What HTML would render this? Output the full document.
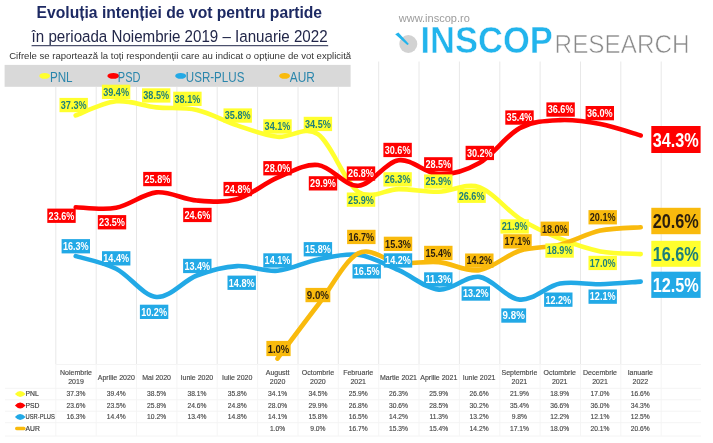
<!DOCTYPE html>
<html><head><meta charset="utf-8"><title>Evoluția intenției de vot pentru partide</title>
<style>html,body{margin:0;padding:0;background:#fff}body{width:713px;height:443px;overflow:hidden}svg{display:block}text{font-family:"Liberation Sans",sans-serif}</style></head><body>
<svg width="713" height="443" viewBox="0 0 713 443">
<defs><filter id="bl" x="-2%" y="-2%" width="104%" height="104%"><feGaussianBlur stdDeviation="0.72"/></filter></defs>
<rect width="713" height="443" fill="#fff"/>
<g filter="url(#bl)">
<g stroke="#E8E8E8" stroke-width="1">
<line x1="55.8" y1="87.0" x2="55.8" y2="364"/>
<line x1="96.2" y1="87.0" x2="96.2" y2="364"/>
<line x1="136.5" y1="87.0" x2="136.5" y2="364"/>
<line x1="176.9" y1="87.0" x2="176.9" y2="364"/>
<line x1="217.2" y1="87.0" x2="217.2" y2="364"/>
<line x1="257.6" y1="87.0" x2="257.6" y2="364"/>
<line x1="298.0" y1="87.0" x2="298.0" y2="364"/>
<line x1="338.3" y1="87.0" x2="338.3" y2="364"/>
<line x1="378.7" y1="61.5" x2="378.7" y2="364"/>
<line x1="419.0" y1="61.5" x2="419.0" y2="364"/>
<line x1="459.4" y1="61.5" x2="459.4" y2="364"/>
<line x1="499.8" y1="61.5" x2="499.8" y2="364"/>
<line x1="540.1" y1="61.5" x2="540.1" y2="364"/>
<line x1="580.5" y1="61.5" x2="580.5" y2="364"/>
<line x1="620.8" y1="61.5" x2="620.8" y2="364"/>
<line x1="661.2" y1="61.5" x2="661.2" y2="364"/>
</g>
<g stroke="#F5F5F5" stroke-width="1">
<line x1="55.8" y1="364" x2="55.8" y2="436"/>
<line x1="96.2" y1="364" x2="96.2" y2="436"/>
<line x1="136.5" y1="364" x2="136.5" y2="436"/>
<line x1="176.9" y1="364" x2="176.9" y2="436"/>
<line x1="217.2" y1="364" x2="217.2" y2="436"/>
<line x1="257.6" y1="364" x2="257.6" y2="436"/>
<line x1="298.0" y1="364" x2="298.0" y2="436"/>
<line x1="338.3" y1="364" x2="338.3" y2="436"/>
<line x1="378.7" y1="364" x2="378.7" y2="436"/>
<line x1="419.0" y1="364" x2="419.0" y2="436"/>
<line x1="459.4" y1="364" x2="459.4" y2="436"/>
<line x1="499.8" y1="364" x2="499.8" y2="436"/>
<line x1="540.1" y1="364" x2="540.1" y2="436"/>
<line x1="580.5" y1="364" x2="580.5" y2="436"/>
<line x1="620.8" y1="364" x2="620.8" y2="436"/>
<line x1="661.2" y1="364" x2="661.2" y2="436"/>
</g>
<text x="36.6" y="17.7" font-size="16" font-weight="bold" fill="#1F2A63" textLength="285.5" lengthAdjust="spacingAndGlyphs">Evoluția intenției de vot pentru partide</text>
<text x="31.6" y="42" font-size="17.4" fill="#23284a" textLength="296" lengthAdjust="spacingAndGlyphs">în perioada Noiembrie 2019 – Ianuarie 2022</text>
<rect x="31.6" y="45.2" width="296.6" height="1" fill="#23284a"/>
<text x="9.2" y="58.5" font-size="8.6" fill="#333" textLength="342" lengthAdjust="spacingAndGlyphs">Cifrele se raportează la toți respondenții care au indicat o opțiune de vot explicită</text>
<rect x="4.6" y="64.9" width="346" height="21.9" fill="#D9D9D9"/>
<ellipse cx="44.7" cy="75.9" rx="5.4" ry="2.9" fill="#FFFF2E"/>
<text x="49.9" y="82" font-size="14" fill="#2A86AC" textLength="22.7" lengthAdjust="spacingAndGlyphs">PNL</text>
<ellipse cx="113.3" cy="75.9" rx="5.9" ry="2.9" fill="#FF0000"/>
<text x="117.8" y="82" font-size="14" fill="#2A86AC" textLength="22.6" lengthAdjust="spacingAndGlyphs">PSD</text>
<ellipse cx="180.7" cy="75.9" rx="5.5" ry="2.9" fill="#22A9E6"/>
<text x="185.8" y="82" font-size="14" fill="#2A86AC" textLength="58.6" lengthAdjust="spacingAndGlyphs">USR-PLUS</text>
<ellipse cx="284.6" cy="75.9" rx="5.4" ry="2.9" fill="#F9BA0A"/>
<text x="289.8" y="82" font-size="14" fill="#2A86AC" textLength="25.1" lengthAdjust="spacingAndGlyphs">AUR</text>
<text x="398.8" y="22" font-size="11" fill="#9c9c9c" textLength="71" lengthAdjust="spacingAndGlyphs">www.inscop.ro</text>
<circle cx="408.3" cy="44" r="9" fill="#D2D2D2"/>
<path d="M395.2 34.2 L398.4 32.4 L408.9 43.9 L407.3 45 Z" fill="#22B4EC"/>
<text x="420.4" y="53.3" font-size="36.5" font-weight="bold" fill="#22B4EC" stroke="#fff" stroke-width="0.5" textLength="132.4" lengthAdjust="spacingAndGlyphs">INSCOP</text>
<text x="554.6" y="53" font-size="24.9" fill="#8a8a8a" textLength="135" lengthAdjust="spacingAndGlyphs" stroke="#fff" stroke-width="0.6">RESEARCH</text>
<path d="M75.7 115.4 C82.4 113.0 102.6 102.7 116.1 101.3 C129.5 100.0 143.0 105.9 156.4 107.4 C169.9 108.8 183.3 107.0 196.8 110.0 C210.2 113.0 223.7 121.0 237.1 125.4 C250.6 129.9 264.0 135.4 277.5 136.8 C291.0 138.3 304.4 125.0 317.9 134.2 C331.3 143.3 344.8 182.6 358.2 191.8 C371.7 200.9 385.1 189.1 398.6 189.1 C412.0 189.1 425.5 192.1 438.9 191.8 C452.4 191.4 465.8 182.6 479.3 187.1 C492.8 191.5 506.2 210.0 519.7 218.6 C533.1 227.2 546.6 233.2 560.0 238.7 C573.5 244.1 586.9 248.8 600.4 251.4 C613.8 254.0 634.0 253.6 640.7 254.1" fill="none" stroke="#FFFF2E" stroke-width="4.6" stroke-linecap="round" stroke-linejoin="round"/>
<path d="M75.7 207.2 C82.4 207.3 102.6 210.3 116.1 207.8 C129.5 205.4 143.0 193.7 156.4 192.4 C169.9 191.2 183.3 199.4 196.8 200.5 C210.2 201.6 223.7 202.9 237.1 199.1 C250.6 195.3 264.0 183.4 277.5 177.7 C291.0 172.0 304.4 163.6 317.9 165.0 C331.3 166.3 344.8 186.5 358.2 185.7 C371.7 185.0 385.1 162.2 398.6 160.3 C412.0 158.4 425.5 173.9 438.9 174.3 C452.4 174.8 465.8 170.7 479.3 163.0 C492.8 155.3 506.2 135.3 519.7 128.1 C533.1 121.0 546.6 120.7 560.0 120.1 C573.5 119.4 586.9 121.5 600.4 124.1 C613.8 126.7 634.0 133.6 640.7 135.5" fill="none" stroke="#FF0000" stroke-width="4.6" stroke-linecap="round" stroke-linejoin="round"/>
<path d="M75.7 256.1 C82.4 258.2 102.6 262.0 116.1 268.8 C129.5 275.6 143.0 295.8 156.4 297.0 C169.9 298.1 183.3 280.7 196.8 275.5 C210.2 270.4 223.7 266.9 237.1 266.1 C250.6 265.4 264.0 271.9 277.5 270.8 C291.0 269.7 304.4 262.1 317.9 259.4 C331.3 256.8 344.8 253.0 358.2 254.8 C371.7 256.5 385.1 264.4 398.6 270.2 C412.0 276.0 425.5 288.5 438.9 289.6 C452.4 290.7 465.8 275.2 479.3 276.9 C492.8 278.5 506.2 298.5 519.7 299.6 C533.1 300.8 546.6 286.1 560.0 283.6 C573.5 281.0 586.9 284.6 600.4 284.2 C613.8 283.9 634.0 282.0 640.7 281.6" fill="none" stroke="#22A9E6" stroke-width="4.6" stroke-linecap="round" stroke-linejoin="round"/>
<path d="M277.5 358.6 C284.2 349.7 304.4 322.5 317.9 305.0 C331.3 287.5 344.8 260.4 358.2 253.4 C371.7 246.4 385.1 261.3 398.6 262.8 C412.0 264.2 425.5 260.9 438.9 262.1 C452.4 263.3 465.8 272.1 479.3 270.2 C492.8 268.3 506.2 255.0 519.7 250.7 C533.1 246.5 546.6 248.0 560.0 244.7 C573.5 241.3 586.9 233.5 600.4 230.6 C613.8 227.7 634.0 227.8 640.7 227.3" fill="none" stroke="#F9BA0A" stroke-width="4.6" stroke-linecap="round" stroke-linejoin="round"/>
<rect x="59.5" y="97.9" width="28.4" height="14.3" fill="#FFFF2E"/>
<text x="60.8" y="108.9" font-size="10.6" font-weight="bold" fill="#1F7F7A" textLength="25.8" lengthAdjust="spacingAndGlyphs">37.3%</text>
<rect x="101.9" y="84.7" width="28.4" height="14.3" fill="#FFFF2E"/>
<text x="103.2" y="95.7" font-size="10.6" font-weight="bold" fill="#1F7F7A" textLength="25.8" lengthAdjust="spacingAndGlyphs">39.4%</text>
<rect x="142.0" y="88.3" width="28.4" height="14.3" fill="#FFFF2E"/>
<text x="143.3" y="99.3" font-size="10.6" font-weight="bold" fill="#1F7F7A" textLength="25.8" lengthAdjust="spacingAndGlyphs">38.5%</text>
<rect x="173.2" y="91.7" width="28.4" height="14.3" fill="#FFFF2E"/>
<text x="174.5" y="102.7" font-size="10.6" font-weight="bold" fill="#1F7F7A" textLength="25.8" lengthAdjust="spacingAndGlyphs">38.1%</text>
<rect x="223.5" y="108.4" width="28.4" height="14.3" fill="#FFFF2E"/>
<text x="224.8" y="119.4" font-size="10.6" font-weight="bold" fill="#1F7F7A" textLength="25.8" lengthAdjust="spacingAndGlyphs">35.8%</text>
<rect x="263.3" y="119.3" width="28.4" height="14.3" fill="#FFFF2E"/>
<text x="264.6" y="130.3" font-size="10.6" font-weight="bold" fill="#1F7F7A" textLength="25.8" lengthAdjust="spacingAndGlyphs">34.1%</text>
<rect x="303.7" y="116.8" width="28.4" height="14.3" fill="#FFFF2E"/>
<text x="305.0" y="127.7" font-size="10.6" font-weight="bold" fill="#1F7F7A" textLength="25.8" lengthAdjust="spacingAndGlyphs">34.5%</text>
<rect x="346.8" y="192.5" width="28.4" height="14.3" fill="#FFFF2E"/>
<text x="348.1" y="203.5" font-size="10.6" font-weight="bold" fill="#1F7F7A" textLength="25.8" lengthAdjust="spacingAndGlyphs">25.9%</text>
<rect x="383.4" y="172.2" width="28.4" height="14.3" fill="#FFFF2E"/>
<text x="384.7" y="183.2" font-size="10.6" font-weight="bold" fill="#1F7F7A" textLength="25.8" lengthAdjust="spacingAndGlyphs">26.3%</text>
<rect x="424.1" y="174.4" width="28.4" height="14.3" fill="#FFFF2E"/>
<text x="425.4" y="185.4" font-size="10.6" font-weight="bold" fill="#1F7F7A" textLength="25.8" lengthAdjust="spacingAndGlyphs">25.9%</text>
<rect x="457.4" y="188.6" width="28.4" height="14.3" fill="#FFFF2E"/>
<text x="458.7" y="199.6" font-size="10.6" font-weight="bold" fill="#1F7F7A" textLength="25.8" lengthAdjust="spacingAndGlyphs">26.6%</text>
<rect x="500.4" y="219.3" width="28.4" height="14.3" fill="#FFFF2E"/>
<text x="501.8" y="230.3" font-size="10.6" font-weight="bold" fill="#1F7F7A" textLength="25.8" lengthAdjust="spacingAndGlyphs">21.9%</text>
<rect x="545.4" y="243.4" width="28.4" height="14.3" fill="#FFFF2E"/>
<text x="546.7" y="254.4" font-size="10.6" font-weight="bold" fill="#1F7F7A" textLength="25.8" lengthAdjust="spacingAndGlyphs">18.9%</text>
<rect x="588.5" y="255.8" width="28.4" height="14.3" fill="#FFFF2E"/>
<text x="589.8" y="266.7" font-size="10.6" font-weight="bold" fill="#1F7F7A" textLength="25.8" lengthAdjust="spacingAndGlyphs">17.0%</text>
<rect x="47.3" y="208.6" width="28.4" height="14.3" fill="#FF0000"/>
<text x="48.6" y="219.6" font-size="10.6" font-weight="bold" fill="#fff" textLength="25.8" lengthAdjust="spacingAndGlyphs">23.6%</text>
<rect x="97.8" y="215.1" width="28.4" height="14.3" fill="#FF0000"/>
<text x="99.1" y="226.0" font-size="10.6" font-weight="bold" fill="#fff" textLength="25.8" lengthAdjust="spacingAndGlyphs">23.5%</text>
<rect x="143.2" y="171.9" width="28.4" height="14.3" fill="#FF0000"/>
<text x="144.5" y="182.9" font-size="10.6" font-weight="bold" fill="#fff" textLength="25.8" lengthAdjust="spacingAndGlyphs">25.8%</text>
<rect x="183.2" y="207.8" width="28.4" height="14.3" fill="#FF0000"/>
<text x="184.5" y="218.8" font-size="10.6" font-weight="bold" fill="#fff" textLength="25.8" lengthAdjust="spacingAndGlyphs">24.6%</text>
<rect x="223.5" y="181.9" width="28.4" height="14.3" fill="#FF0000"/>
<text x="224.8" y="192.9" font-size="10.6" font-weight="bold" fill="#fff" textLength="25.8" lengthAdjust="spacingAndGlyphs">24.8%</text>
<rect x="263.3" y="161.1" width="28.4" height="14.3" fill="#FF0000"/>
<text x="264.6" y="172.0" font-size="10.6" font-weight="bold" fill="#fff" textLength="25.8" lengthAdjust="spacingAndGlyphs">28.0%</text>
<rect x="308.8" y="176.2" width="28.4" height="14.3" fill="#FF0000"/>
<text x="310.1" y="187.2" font-size="10.6" font-weight="bold" fill="#fff" textLength="25.8" lengthAdjust="spacingAndGlyphs">29.9%</text>
<rect x="346.8" y="166.4" width="28.4" height="14.3" fill="#FF0000"/>
<text x="348.1" y="177.4" font-size="10.6" font-weight="bold" fill="#fff" textLength="25.8" lengthAdjust="spacingAndGlyphs">26.8%</text>
<rect x="383.4" y="142.8" width="28.4" height="14.3" fill="#FF0000"/>
<text x="384.7" y="153.8" font-size="10.6" font-weight="bold" fill="#fff" textLength="25.8" lengthAdjust="spacingAndGlyphs">30.6%</text>
<rect x="424.1" y="157.2" width="28.4" height="14.3" fill="#FF0000"/>
<text x="425.4" y="168.2" font-size="10.6" font-weight="bold" fill="#fff" textLength="25.8" lengthAdjust="spacingAndGlyphs">28.5%</text>
<rect x="465.6" y="145.8" width="28.4" height="14.3" fill="#FF0000"/>
<text x="466.9" y="156.8" font-size="10.6" font-weight="bold" fill="#fff" textLength="25.8" lengthAdjust="spacingAndGlyphs">30.2%</text>
<rect x="505.3" y="110.4" width="28.4" height="14.3" fill="#FF0000"/>
<text x="506.6" y="121.4" font-size="10.6" font-weight="bold" fill="#fff" textLength="25.8" lengthAdjust="spacingAndGlyphs">35.4%</text>
<rect x="546.4" y="102.4" width="28.4" height="14.3" fill="#FF0000"/>
<text x="547.7" y="113.4" font-size="10.6" font-weight="bold" fill="#fff" textLength="25.8" lengthAdjust="spacingAndGlyphs">36.6%</text>
<rect x="585.6" y="106.0" width="28.4" height="14.3" fill="#FF0000"/>
<text x="586.9" y="117.0" font-size="10.6" font-weight="bold" fill="#fff" textLength="25.8" lengthAdjust="spacingAndGlyphs">36.0%</text>
<rect x="61.6" y="239.1" width="28.4" height="14.3" fill="#22A9E6"/>
<text x="62.9" y="250.1" font-size="10.6" font-weight="bold" fill="#fff" textLength="25.8" lengthAdjust="spacingAndGlyphs">16.3%</text>
<rect x="102.0" y="251.2" width="28.4" height="14.3" fill="#22A9E6"/>
<text x="103.3" y="262.1" font-size="10.6" font-weight="bold" fill="#fff" textLength="25.8" lengthAdjust="spacingAndGlyphs">14.4%</text>
<rect x="139.9" y="304.7" width="28.4" height="14.3" fill="#22A9E6"/>
<text x="141.2" y="315.6" font-size="10.6" font-weight="bold" fill="#fff" textLength="25.8" lengthAdjust="spacingAndGlyphs">10.2%</text>
<rect x="183.1" y="258.8" width="28.4" height="14.3" fill="#22A9E6"/>
<text x="184.4" y="269.7" font-size="10.6" font-weight="bold" fill="#fff" textLength="25.8" lengthAdjust="spacingAndGlyphs">13.4%</text>
<rect x="227.5" y="275.6" width="28.4" height="14.3" fill="#22A9E6"/>
<text x="228.8" y="286.6" font-size="10.6" font-weight="bold" fill="#fff" textLength="25.8" lengthAdjust="spacingAndGlyphs">14.8%</text>
<rect x="263.3" y="253.3" width="28.4" height="14.3" fill="#22A9E6"/>
<text x="264.6" y="264.3" font-size="10.6" font-weight="bold" fill="#fff" textLength="25.8" lengthAdjust="spacingAndGlyphs">14.1%</text>
<rect x="303.7" y="242.1" width="28.4" height="14.3" fill="#22A9E6"/>
<text x="305.0" y="253.1" font-size="10.6" font-weight="bold" fill="#fff" textLength="25.8" lengthAdjust="spacingAndGlyphs">15.8%</text>
<rect x="352.5" y="264.2" width="28.4" height="14.3" fill="#22A9E6"/>
<text x="353.8" y="275.1" font-size="10.6" font-weight="bold" fill="#fff" textLength="25.8" lengthAdjust="spacingAndGlyphs">16.5%</text>
<rect x="383.8" y="253.3" width="28.4" height="14.3" fill="#22A9E6"/>
<text x="385.1" y="264.3" font-size="10.6" font-weight="bold" fill="#fff" textLength="25.8" lengthAdjust="spacingAndGlyphs">14.2%</text>
<rect x="424.1" y="272.3" width="28.4" height="14.3" fill="#22A9E6"/>
<text x="425.4" y="283.3" font-size="10.6" font-weight="bold" fill="#fff" textLength="25.8" lengthAdjust="spacingAndGlyphs">11.3%</text>
<rect x="461.6" y="286.4" width="28.4" height="14.3" fill="#22A9E6"/>
<text x="462.9" y="297.3" font-size="10.6" font-weight="bold" fill="#fff" textLength="25.8" lengthAdjust="spacingAndGlyphs">13.2%</text>
<rect x="501.3" y="308.4" width="24.8" height="14.3" fill="#22A9E6"/>
<text x="502.6" y="319.3" font-size="10.6" font-weight="bold" fill="#fff" textLength="22.2" lengthAdjust="spacingAndGlyphs">9.8%</text>
<rect x="544.1" y="292.5" width="28.4" height="14.3" fill="#22A9E6"/>
<text x="545.4" y="303.5" font-size="10.6" font-weight="bold" fill="#fff" textLength="25.8" lengthAdjust="spacingAndGlyphs">12.2%</text>
<rect x="588.5" y="289.5" width="28.4" height="14.3" fill="#22A9E6"/>
<text x="589.8" y="300.4" font-size="10.6" font-weight="bold" fill="#fff" textLength="25.8" lengthAdjust="spacingAndGlyphs">12.1%</text>
<rect x="266.4" y="340.9" width="24.2" height="15.2" fill="#F9BA0A"/>
<text x="267.7" y="352.7" font-size="11.4" font-weight="bold" fill="#2a1f08" textLength="21.6" lengthAdjust="spacingAndGlyphs">1.0%</text>
<rect x="305.5" y="287.9" width="24.8" height="14.3" fill="#F9BA0A"/>
<text x="306.8" y="298.8" font-size="10.6" font-weight="bold" fill="#2a1f08" textLength="22.2" lengthAdjust="spacingAndGlyphs">9.0%</text>
<rect x="347.1" y="229.8" width="28.4" height="14.3" fill="#F9BA0A"/>
<text x="348.4" y="240.8" font-size="10.6" font-weight="bold" fill="#2a1f08" textLength="25.8" lengthAdjust="spacingAndGlyphs">16.7%</text>
<rect x="383.8" y="236.7" width="28.4" height="14.3" fill="#F9BA0A"/>
<text x="385.1" y="247.7" font-size="10.6" font-weight="bold" fill="#2a1f08" textLength="25.8" lengthAdjust="spacingAndGlyphs">15.3%</text>
<rect x="424.1" y="245.8" width="28.4" height="14.3" fill="#F9BA0A"/>
<text x="425.4" y="256.7" font-size="10.6" font-weight="bold" fill="#2a1f08" textLength="25.8" lengthAdjust="spacingAndGlyphs">15.4%</text>
<rect x="465.1" y="253.5" width="28.4" height="14.3" fill="#F9BA0A"/>
<text x="466.4" y="264.4" font-size="10.6" font-weight="bold" fill="#2a1f08" textLength="25.8" lengthAdjust="spacingAndGlyphs">14.2%</text>
<rect x="503.3" y="234.2" width="28.4" height="14.3" fill="#F9BA0A"/>
<text x="504.6" y="245.2" font-size="10.6" font-weight="bold" fill="#2a1f08" textLength="25.8" lengthAdjust="spacingAndGlyphs">17.1%</text>
<rect x="540.6" y="221.6" width="28.4" height="14.3" fill="#F9BA0A"/>
<text x="541.9" y="232.6" font-size="10.6" font-weight="bold" fill="#2a1f08" textLength="25.8" lengthAdjust="spacingAndGlyphs">18.0%</text>
<rect x="588.5" y="210.1" width="28.4" height="14.3" fill="#F9BA0A"/>
<text x="589.8" y="221.1" font-size="10.6" font-weight="bold" fill="#2a1f08" textLength="25.8" lengthAdjust="spacingAndGlyphs">20.1%</text>
<rect x="651.3" y="126.0" width="49.3" height="27.0" fill="#FF0000"/>
<text x="652.7" y="146.6" font-size="19.6" font-weight="bold" fill="#fff" textLength="46.1" lengthAdjust="spacingAndGlyphs">34.3%</text>
<rect x="651.3" y="207.8" width="49.3" height="26.4" fill="#F9BA0A"/>
<text x="652.7" y="228.1" font-size="19.6" font-weight="bold" fill="#2a1f08" textLength="46.1" lengthAdjust="spacingAndGlyphs">20.6%</text>
<rect x="651.3" y="240.8" width="49.3" height="26.0" fill="#FFFF2E"/>
<text x="652.7" y="260.9" font-size="19.6" font-weight="bold" fill="#1F7F7A" textLength="46.1" lengthAdjust="spacingAndGlyphs">16.6%</text>
<rect x="651.3" y="271.7" width="49.3" height="26.2" fill="#22A9E6"/>
<text x="652.7" y="291.9" font-size="19.6" font-weight="bold" fill="#fff" textLength="46.1" lengthAdjust="spacingAndGlyphs">12.5%</text>
<g stroke="#F4F4F4" stroke-width="1">
<line x1="55.8" y1="364.5" x2="701" y2="364.5"/>
<line x1="5" y1="388.3" x2="701" y2="388.3"/>
<line x1="5" y1="399.8" x2="701" y2="399.8"/>
<line x1="5" y1="411.2" x2="701" y2="411.2"/>
<line x1="5" y1="422.7" x2="701" y2="422.7"/>
<line x1="5" y1="436.0" x2="701" y2="436.0"/>
</g>
<g font-size="7" fill="#4a4a4a" stroke="#4a4a4a" stroke-width="0.15" text-anchor="middle">
<text x="76.0" y="374.8">Noiembrie</text><text x="76.0" y="383.9">2019</text>
<text x="116.3" y="379.8">Aprilie 2020</text>
<text x="156.6" y="379.8">Mai 2020</text>
<text x="196.9" y="379.8">Iunie 2020</text>
<text x="237.2" y="379.8">Iulie 2020</text>
<text x="277.6" y="374.8">Augustt</text><text x="277.6" y="383.9">2020</text>
<text x="317.9" y="374.8">Octombrie</text><text x="317.9" y="383.9">2020</text>
<text x="358.2" y="374.8">Februarie</text><text x="358.2" y="383.9">2021</text>
<text x="398.5" y="379.8">Martie 2021</text>
<text x="438.8" y="379.8">Aprilie 2021</text>
<text x="479.1" y="379.8">Iunie 2021</text>
<text x="519.4" y="374.8">Septembrie</text><text x="519.4" y="383.9">2021</text>
<text x="559.7" y="374.8">Octombrie</text><text x="559.7" y="383.9">2021</text>
<text x="600.0" y="374.8">Decembrie</text><text x="600.0" y="383.9">2021</text>
<text x="640.3" y="374.8">Ianuarie</text><text x="640.3" y="383.9">2022</text>
</g>
<g font-size="6.7" fill="#4a4a4a" stroke="#4a4a4a" stroke-width="0.15" text-anchor="middle">
<text x="76.0" y="396.4">37.3%</text>
<text x="116.3" y="396.4">39.4%</text>
<text x="156.6" y="396.4">38.5%</text>
<text x="196.9" y="396.4">38.1%</text>
<text x="237.2" y="396.4">35.8%</text>
<text x="277.6" y="396.4">34.1%</text>
<text x="317.9" y="396.4">34.5%</text>
<text x="358.2" y="396.4">25.9%</text>
<text x="398.5" y="396.4">26.3%</text>
<text x="438.8" y="396.4">25.9%</text>
<text x="479.1" y="396.4">26.6%</text>
<text x="519.4" y="396.4">21.9%</text>
<text x="559.7" y="396.4">18.9%</text>
<text x="600.0" y="396.4">17.0%</text>
<text x="640.3" y="396.4">16.6%</text>
<text x="76.0" y="407.9">23.6%</text>
<text x="116.3" y="407.9">23.5%</text>
<text x="156.6" y="407.9">25.8%</text>
<text x="196.9" y="407.9">24.6%</text>
<text x="237.2" y="407.9">24.8%</text>
<text x="277.6" y="407.9">28.0%</text>
<text x="317.9" y="407.9">29.9%</text>
<text x="358.2" y="407.9">26.8%</text>
<text x="398.5" y="407.9">30.6%</text>
<text x="438.8" y="407.9">28.5%</text>
<text x="479.1" y="407.9">30.2%</text>
<text x="519.4" y="407.9">35.4%</text>
<text x="559.7" y="407.9">36.6%</text>
<text x="600.0" y="407.9">36.0%</text>
<text x="640.3" y="407.9">34.3%</text>
<text x="76.0" y="419.3">16.3%</text>
<text x="116.3" y="419.3">14.4%</text>
<text x="156.6" y="419.3">10.2%</text>
<text x="196.9" y="419.3">13.4%</text>
<text x="237.2" y="419.3">14.8%</text>
<text x="277.6" y="419.3">14.1%</text>
<text x="317.9" y="419.3">15.8%</text>
<text x="358.2" y="419.3">16.5%</text>
<text x="398.5" y="419.3">14.2%</text>
<text x="438.8" y="419.3">11.3%</text>
<text x="479.1" y="419.3">13.2%</text>
<text x="519.4" y="419.3">9.8%</text>
<text x="559.7" y="419.3">12.2%</text>
<text x="600.0" y="419.3">12.1%</text>
<text x="640.3" y="419.3">12.5%</text>
<text x="277.6" y="430.9">1.0%</text>
<text x="317.9" y="430.9">9.0%</text>
<text x="358.2" y="430.9">16.7%</text>
<text x="398.5" y="430.9">15.3%</text>
<text x="438.8" y="430.9">15.4%</text>
<text x="479.1" y="430.9">14.2%</text>
<text x="519.4" y="430.9">17.1%</text>
<text x="559.7" y="430.9">18.0%</text>
<text x="600.0" y="430.9">20.1%</text>
<text x="640.3" y="430.9">20.6%</text>
</g>
<g font-size="6.8" fill="#3a3a3a" stroke="#3a3a3a" stroke-width="0.15">
<path d="M14.9 394.0 Q17.5 391.1 20.2 391.0 Q22.9 391.1 25.6 394.0 Q22.9 396.9 20.2 397.0 Q17.5 396.9 14.9 394.0 Z" fill="#FFFF2E" stroke="none"/>
<text x="25.5" y="396.4">PNL</text>
<path d="M14.9 405.5 Q17.5 402.6 20.2 402.5 Q22.9 402.6 25.6 405.5 Q22.9 408.4 20.2 408.5 Q17.5 408.4 14.9 405.5 Z" fill="#FF0000" stroke="none"/>
<text x="25.5" y="407.9">PSD</text>
<path d="M14.9 416.9 Q17.5 414.0 20.2 413.9 Q22.9 414.0 25.6 416.9 Q22.9 419.8 20.2 419.9 Q17.5 419.8 14.9 416.9 Z" fill="#22A9E6" stroke="none"/>
<text x="25.5" y="419.3" textLength="29.3" lengthAdjust="spacingAndGlyphs">USR-PLUS</text>
<rect x="15" y="426.8" width="10.6" height="3.4" rx="1.7" fill="#F9BA0A" stroke="none"/>
<text x="25.5" y="430.9">AUR</text>
</g>
</g>
</svg></body></html>
